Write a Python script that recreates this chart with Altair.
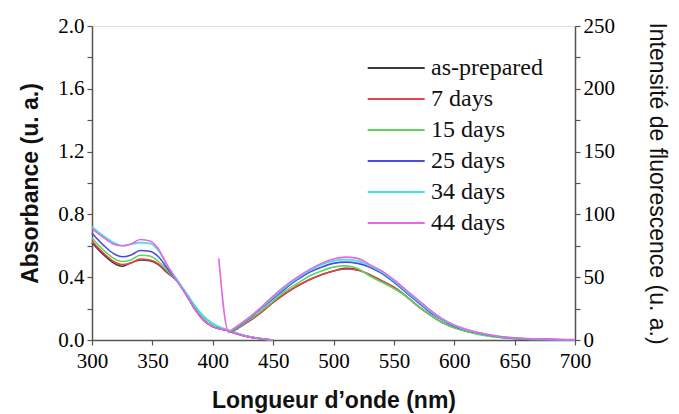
import altair as alt
import pandas as pd

series = ["as-prepared", "\u00a07 days", "15 days", "25 days", "34 days", "44 days"]
colors = ["#3a3a3a", "#e8434b", "#5ed65e", "#4b4bdc", "#3fe0e0", "#e667e6"]

# Absorbance (left axis, u. a.)
abs_wl = [300, 310, 318, 325, 332, 340, 348, 355, 362, 370, 378, 385, 392, 400, 410, 420, 430, 440, 450]
abs_asprep = [0.62, 0.54, 0.49, 0.47, 0.49, 0.51, 0.505, 0.48, 0.43, 0.38, 0.29, 0.20, 0.13, 0.085, 0.065, 0.04, 0.02, 0.008, 0.0]
abs_7d = [0.63, 0.55, 0.50, 0.48, 0.49, 0.515, 0.51, 0.485, 0.435, 0.38, 0.29, 0.20, 0.13, 0.085, 0.065, 0.04, 0.02, 0.008, 0.0]
abs_15d = [0.65, 0.57, 0.52, 0.50, 0.51, 0.54, 0.535, 0.50, 0.445, 0.38, 0.30, 0.22, 0.15, 0.10, 0.07, 0.045, 0.022, 0.009, 0.0]
abs_25d = [0.68, 0.60, 0.55, 0.53, 0.54, 0.57, 0.565, 0.53, 0.46, 0.38, 0.29, 0.20, 0.13, 0.085, 0.065, 0.04, 0.02, 0.008, 0.0]
abs_34d = [0.72, 0.66, 0.62, 0.60, 0.61, 0.62, 0.615, 0.57, 0.48, 0.39, 0.30, 0.22, 0.155, 0.105, 0.07, 0.045, 0.022, 0.009, 0.0]
abs_44d = [0.71, 0.65, 0.61, 0.60, 0.61, 0.64, 0.63, 0.58, 0.48, 0.38, 0.29, 0.20, 0.13, 0.085, 0.065, 0.04, 0.02, 0.008, 0.0]

# Fluorescence intensity (right axis, u. a.)
fl_wl = [405, 413, 420, 430, 440, 450, 460, 470, 480, 490, 500, 510, 520, 530, 540, 550, 560, 570, 580, 590, 600, 610, 620, 640, 660, 680, 700]
fl_asprep = [None, 6, 9, 15, 22, 30, 37, 43, 48, 52, 55, 57, 56, 52, 47, 42, 35, 27, 20, 14, 10, 7, 5, 2, 0.8, 0.3, 0]
fl_7d = [None, 6, 9, 15, 22, 30, 37, 43, 48, 52, 55, 56.5, 55.5, 52, 47, 42, 35, 27, 20, 14, 10, 7, 5, 2, 0.8, 0.3, 0]
fl_15d = [None, 6, 9.5, 16, 23, 31, 39, 45, 51, 55, 58, 59, 57, 51, 46, 41, 35, 27, 20, 14, 10, 7, 4.5, 1.8, 0.6, 0.2, 0]
fl_25d = [None, 6, 10, 17, 25, 33, 41, 48, 54, 58, 61, 62, 61, 58, 53, 46, 38, 30, 22, 16, 11, 8, 5.5, 2.2, 0.9, 0.3, 0]
fl_34d = [None, 6, 10.5, 17.5, 25.5, 34, 42, 49, 55, 60, 63, 64, 63, 59, 54, 47, 39, 31, 23, 16.5, 11.5, 8, 5.8, 2.4, 1, 0.4, 0.1]
fl_44d = [65, 7, 11, 18, 26, 35, 43, 50, 56, 61, 64.5, 66, 65, 60, 55, 48, 40, 32, 24, 17, 12, 8.5, 6, 2.6, 1.2, 0.5, 0.3]

abs_series = [abs_asprep, abs_7d, abs_15d, abs_25d, abs_34d, abs_44d]
fl_series = [fl_asprep, fl_7d, fl_15d, fl_25d, fl_34d, fl_44d]

abs_rows = []
for name, vals in zip(series, abs_series):
    for w, v in zip(abs_wl, vals):
        abs_rows.append({"series": name, "wl": w, "val": v})
abs_df = pd.DataFrame(abs_rows)

fl_rows = []
for name, vals in zip(series, fl_series):
    for w, v in zip(fl_wl, vals):
        if v is not None:
            fl_rows.append({"series": name, "wl": w, "val": v})
fl_df = pd.DataFrame(fl_rows)

x_ticks = list(range(300, 701, 25))
left_ticks = [round(i * 0.2, 1) for i in range(11)]
right_ticks = list(range(0, 251, 25))

axis_common = dict(
    grid=False, domainColor="#555555", domainWidth=1.5, tickColor="#555555",
    tickWidth=1.2, tickSize=5, labelFont="Liberation Serif", labelFontSize=21,
    labelColor="#000000", titleFont="Liberation Sans", titleFontSize=23,
    titleColor="#111111",
)

x_enc = alt.X(
    "wl:Q",
    scale=alt.Scale(domain=[300, 700], nice=False, zero=False),
    axis=alt.Axis(
        values=x_ticks, title="Longueur d’onde (nm)",
        labelExpr="datum.value % 50 == 0 ? datum.label : ''",
        labelPadding=5, titlePadding=18, labelFlush=False,
        titleFontWeight="bold", **axis_common,
    ),
)

color_enc = alt.Color(
    "series:N",
    scale=alt.Scale(domain=series, range=colors),
    legend=alt.Legend(
        title=None, orient="none", legendX=315, legendY=30,
        symbolType="M-9,0H1", symbolSize=130, symbolStrokeWidth=2,
        labelFont="Liberation Serif", labelFontSize=24, labelColor="#111111",
        labelOffset=0, rowPadding=7, labelLimit=300,
    ),
)

abs_chart = alt.Chart(abs_df).mark_line(interpolate="monotone", strokeWidth=1.6).encode(
    x=x_enc,
    y=alt.Y(
        "val:Q",
        scale=alt.Scale(domain=[0, 2], nice=False),
        axis=alt.Axis(
            values=left_ticks, format=".1f", title="Absorbance (u. a.)",
            labelExpr="round(datum.value * 10) % 4 == 0 ? datum.label : ''",
            labelPadding=3, titlePadding=15, labelFlush=False,
            titleFontWeight="bold", **axis_common,
        ),
    ),
    color=color_enc,
)

fl_chart = alt.Chart(fl_df).mark_line(interpolate="monotone", strokeWidth=1.6).encode(
    x=alt.X("wl:Q", scale=alt.Scale(domain=[300, 700], nice=False, zero=False)),
    y=alt.Y(
        "val:Q",
        scale=alt.Scale(domain=[0, 250], nice=False),
        axis=alt.Axis(
            orient="right", values=right_ticks, title="Intensité de fluorescence (u. a.)",
            labelExpr="datum.value % 50 == 0 ? datum.label : ''",
            labelPadding=3, titlePadding=30, labelFlush=False,
            titleFontWeight="normal", **axis_common,
        ),
    ),
    color=alt.Color("series:N", scale=alt.Scale(domain=series, range=colors), legend=None),
)

chart = alt.layer(abs_chart, fl_chart).resolve_scale(y="independent").properties(
    width=483, height=314,
    autosize=alt.AutoSizeParams(type="none"),
    padding={"left": 84, "top": 18, "right": 96, "bottom": 74},
).configure_view(stroke=None).configure(background="white")

chart.save("out.html", embed_options={"renderer": "svg", "actions": False})
